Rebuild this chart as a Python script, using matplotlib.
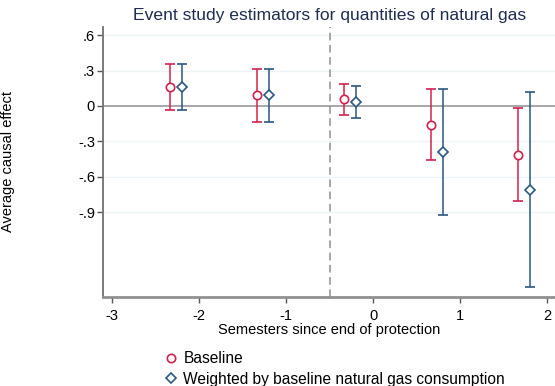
import numpy as np
import matplotlib.pyplot as plt

plt.rcParams['font.family'] = ['Liberation Sans', 'DejaVu Sans']

# semesters relative to end of protection
periods = np.array([-2, -1, 0, 1, 2])

# baseline estimates and 95% CI bounds
base_est = [0.159, 0.091, 0.057, -0.161, -0.413]
base_lo = [-0.034, -0.133, -0.076, -0.461, -0.806]
base_hi = [0.357, 0.314, 0.187, 0.142, -0.020]

# weighted by baseline natural gas consumption
wgt_est = [0.159, 0.091, 0.037, -0.393, -0.713]
wgt_lo = [-0.034, -0.133, -0.104, -0.925, -1.539]
wgt_hi = [0.357, 0.314, 0.170, 0.142, 0.116]

yticks = [0.6, 0.3, 0, -0.3, -0.6, -0.9]
ytick_labels = ['.6', '.3', '0', '-.3', '-.6', '-.9']
xticks = [-3, -2, -1, 0, 1, 2]

red = '#d6204e'
blue = '#2a5783'

fig = plt.figure(figsize=(5.55, 3.86), dpi=100)
ax = fig.add_axes([0.186, 0.231, 0.814, 0.699])

for y in yticks:
    if y != 0:
        ax.axhline(y, color='#edf4f5', lw=1, zorder=0)
ax.axhline(0, color='#a0a0a0', lw=1.3, zorder=1)
ax.axvline(-0.5, color='#909090', lw=1.1, ls=(0, (5, 3)), zorder=1)


def draw_series(x, est, lo, hi, color, marker, ms, label):
    est = np.array(est)
    err = [est - np.array(lo), np.array(hi) - est]
    ax.errorbar(x, est, yerr=err, fmt=marker, color=color, mfc='white',
                mec=color, ms=ms, mew=1.2, elinewidth=1.1, capsize=3.5,
                capthick=1.1, label=label, zorder=3)


draw_series(periods - 0.33, base_est, base_lo, base_hi, red, 'o', 6, 'Baseline')
draw_series(periods - 0.2, wgt_est, wgt_lo, wgt_hi, blue, 'D', 5.5,
            'Weighted by baseline natural gas consumption')

ax.set_xlim(-3.1, 2.09)
ax.set_ylim(-1.62, 0.67)
ax.set_yticks(yticks)
ax.set_yticklabels(ytick_labels)
ax.set_xticks(xticks)
ax.set_xticklabels([str(t) for t in xticks])
ax.tick_params(axis='both', labelsize=10.5, length=4, width=1, color='#555555',
               labelcolor='black')
ax.tick_params(axis='y', pad=2)
ax.tick_params(axis='x', pad=5)

for side in ['top', 'right']:
    ax.spines[side].set_visible(False)
ax.spines['left'].set_color('#707070')
ax.spines['bottom'].set_color('#909090')
ax.spines['left'].set_linewidth(1.3)
ax.spines['bottom'].set_linewidth(2)

ax.set_title('Event study estimators for quantities of natural gas',
             fontsize=12.6, color='#1e2d4f', pad=5)
ax.set_xlabel('Semesters since end of protection', fontsize=10.5, labelpad=0)
ax.set_ylabel('Average causal effect', fontsize=10.5)
ax.yaxis.set_label_coords(-0.195, 0.5)

handles, labels = ax.get_legend_handles_labels()
handles = [h[0] for h in handles]
fig.legend(handles, labels, loc='upper left', bbox_to_anchor=(0.28, 0.106),
           frameon=False, fontsize=11.2, handletextpad=0.25, labelspacing=0.35,
           handlelength=1.15, borderaxespad=0)

fig.savefig('out.png', dpi=100)
